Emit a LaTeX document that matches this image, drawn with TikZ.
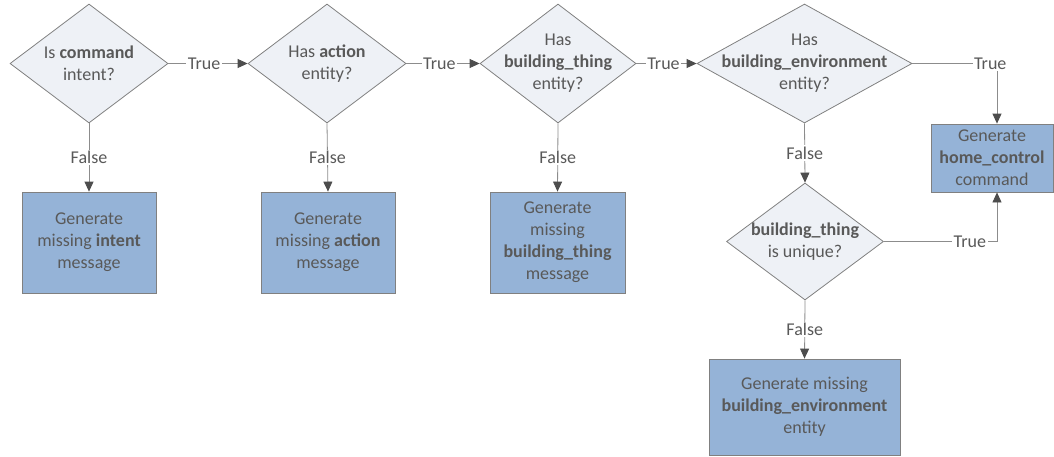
\documentclass[tikz,border=0pt]{standalone}
\usepackage{fontspec}
\setmainfont{Carlito}
\usetikzlibrary{shapes.geometric,arrows.meta}
\definecolor{txt}{HTML}{595959}
\definecolor{edge}{HTML}{8C8C8C}
\definecolor{tipc}{HTML}{4D4D4D}
\definecolor{dfill}{HTML}{EEF1F6}
\definecolor{dline}{HTML}{808080}
\definecolor{bfill}{HTML}{95B3D7}
\begin{document}
\begin{tikzpicture}[x=1pt,y=-1pt,
  font=\fontsize{18}{22}\selectfont, text=txt,
  decision/.style={diamond, draw=dline, fill=dfill, line width=0.8pt,
    inner sep=0pt, minimum height=119pt},
  dtext/.style={align=center, text=txt, inner sep=0pt},
  action/.style={rectangle, draw=dline, fill=bfill, line width=0.8pt,
    inner sep=0pt, align=center, minimum width=134pt, minimum height=101pt},
  flow/.style={draw=edge, line width=0.8pt,
    -{Triangle[length=10pt,width=9pt,color=tipc]}},
  elabel/.style={fill=white, inner sep=1.5pt, text=txt}]
\useasboundingbox (0,0) rectangle (1054,456);

% decisions along the main row
\node[decision, minimum width=158pt,
  label={[dtext]center:Is \textbf{command}\\intent?}] (d1) at (89,63.5) {};
\node[decision, minimum width=158pt,
  label={[dtext]center:Has \textbf{action}\\entity?}] (d2) at (327,63.5) {};
\node[decision, minimum width=156pt,
  label={[dtext]center:Has\\\textbf{building\_thing}\\entity?}] (d3) at (558,63.5) {};
\node[decision, minimum width=215pt,
  label={[dtext]center:Has\\\textbf{building\_environment}\\entity?}] (d4) at (804.5,63.5) {};
\node[decision, minimum width=157pt, minimum height=117pt,
  label={[dtext]center:\textbf{building\_thing}\\is unique?}] (d5) at (805,241.5) {};

% result boxes
\node[action] (b1) at (89,242.5) {Generate\\missing \textbf{intent}\\message};
\node[action] (b2) at (328,242.5) {Generate\\missing \textbf{action}\\message};
\node[action, minimum width=135pt] (b3) at (557.5,242.5)
  {Generate\\missing\\\textbf{building\_thing}\\message};
\node[action, minimum width=122pt, minimum height=68pt] (b4) at (992,158)
  {Generate\\\textbf{home\_control}\\command};
\node[action, minimum width=191pt, minimum height=96pt] (b5) at (804.5,407)
  {Generate missing\\\textbf{building\_environment}\\entity};

% connectors
\draw[flow] (d1.east) -- node[elabel, pos=0.45] {True} (d2.west);
\draw[flow] (d2.east) -- node[elabel, pos=0.45] {True} (d3.west);
\draw[flow] (d3.east) -- node[elabel, pos=0.45] {True} (d4.west);
\draw[flow] (d4.east) -| node[elabel, pos=0.46] {True} ([xshift=5pt]b4.north);
\draw[flow] (d5.east) -| node[elabel, pos=0.38] {True} ([xshift=5pt]b4.south);

\draw[flow] (d1.south) -- node[elabel] {False} (b1.north);
\draw[flow] (d2.south) -- node[elabel] {False} (b2.north);
\draw[flow] (d3.south) -- node[elabel] {False} (b3.north);
\draw[flow] (d4.south) -- node[elabel] {False} (d5.north);
\draw[flow] (d5.south) -- node[elabel] {False} (b5.north);
\end{tikzpicture}
\end{document}
